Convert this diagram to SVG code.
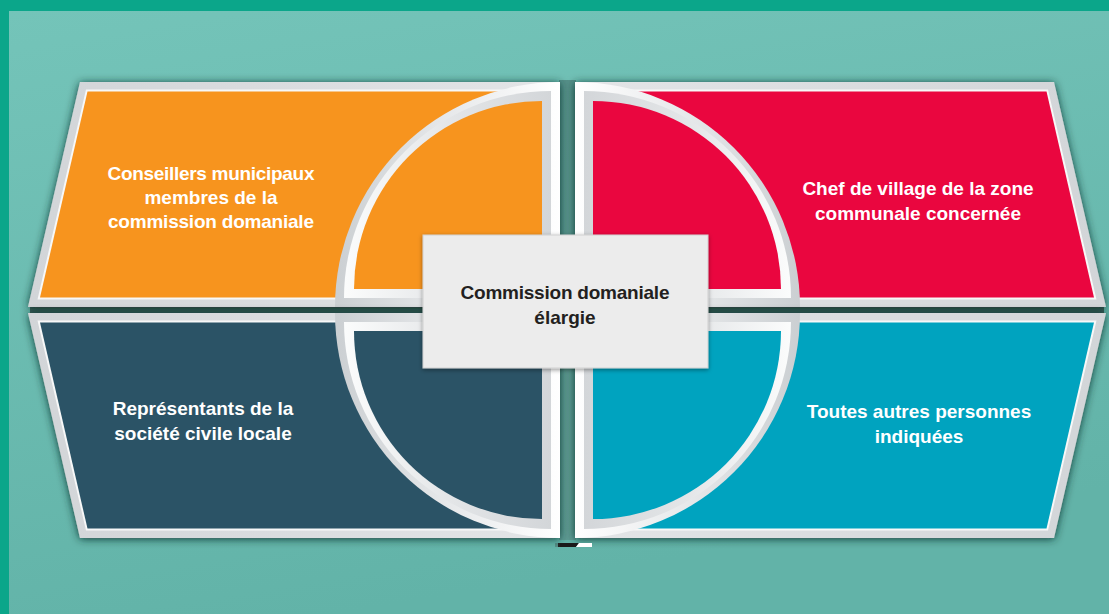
<svg xmlns="http://www.w3.org/2000/svg" width="1109" height="614" viewBox="0 0 1109 614">
  <defs>
    <linearGradient id="bg" x1="0" y1="0" x2="0.3" y2="1">
      <stop offset="0" stop-color="#74c4b9"/>
      <stop offset="1" stop-color="#62b3a8"/>
    </linearGradient>
    <linearGradient id="gapV" x1="0" y1="0" x2="0" y2="1">
      <stop offset="0" stop-color="#55918a"/>
      <stop offset="1" stop-color="#5e9c94"/>
    </linearGradient>
    <linearGradient id="frameL" x1="0" y1="0" x2="1" y2="0">
      <stop offset="0" stop-color="#d2d5d8"/>
      <stop offset="1" stop-color="#e3e5e7"/>
    </linearGradient>
    <linearGradient id="frameR" x1="1" y1="0" x2="0" y2="0">
      <stop offset="0" stop-color="#d2d5d8"/>
      <stop offset="1" stop-color="#e3e5e7"/>
    </linearGradient>
    <linearGradient id="outerL" x1="0" y1="0" x2="1" y2="0">
      <stop offset="0" stop-color="#cbcfd2"/>
      <stop offset="0.45" stop-color="#e4e6e8"/>
      <stop offset="1" stop-color="#ffffff"/>
    </linearGradient>
    <linearGradient id="innerL" x1="0" y1="0" x2="1" y2="0">
      <stop offset="0" stop-color="#fbfcfc"/>
      <stop offset="0.5" stop-color="#e4e6e8"/>
      <stop offset="1" stop-color="#d3d6d9"/>
    </linearGradient>
    <linearGradient id="outerR" x1="1" y1="0" x2="0" y2="0">
      <stop offset="0" stop-color="#cbcfd2"/>
      <stop offset="0.45" stop-color="#e4e6e8"/>
      <stop offset="1" stop-color="#ffffff"/>
    </linearGradient>
    <linearGradient id="innerR" x1="1" y1="0" x2="0" y2="0">
      <stop offset="0" stop-color="#fbfcfc"/>
      <stop offset="0.5" stop-color="#e4e6e8"/>
      <stop offset="1" stop-color="#d3d6d9"/>
    </linearGradient>
    <filter id="shadow" x="-10%" y="-10%" width="120%" height="120%">
      <feDropShadow dx="0" dy="1" stdDeviation="4.5" flood-color="#0f2f2b" flood-opacity="0.9"/>
    </filter>
    <filter id="boxShadow" x="-10%" y="-10%" width="120%" height="130%">
      <feDropShadow dx="0" dy="1.5" stdDeviation="2" flood-color="#000000" flood-opacity="0.4"/>
    </filter>
  </defs>
  <style>
    .label { font-family: "Liberation Sans", Arial, sans-serif; font-weight: bold; font-size: 19px; fill: #ffffff; text-anchor: middle; }
    .center { font-family: "Liberation Sans", Arial, sans-serif; font-weight: bold; font-size: 19px; fill: #231f20; text-anchor: middle; }
    .white { fill: #f7f8f8; }
  </style>

  <!-- background -->
  <rect x="0" y="0" width="1109" height="614" fill="#0ba68a"/>
  <rect x="9" y="11" width="1100" height="603" fill="url(#bg)"/>
  <!-- shaded gaps between the four pieces -->
  <rect x="559" y="80" width="17" height="460" fill="url(#gapV)"/>
  <rect x="30" y="306" width="1074" height="8" fill="#3e5f5a"/>

  <!-- top-left -->
  <g id="node-tl">
    <g filter="url(#shadow)">
      <polygon points="80,82 560,82 560,307 28,307" fill="url(#frameL)"/>
    </g>
    <polygon class="white" points="86,89.5 560,89.5 560,299.5 37.5,299.5"/>
    <polygon points="87.5,91.5 560,91.5 560,297.5 40,297.5" fill="#f7941e"/>
    <path d="M560,307 H335 A225,225 0 0 1 560,82 Z" fill="url(#outerL)"/>
    <path d="M551,298 H344 A207,207 0 0 1 551,91 Z" fill="url(#innerL)"/>
    <path d="M542,289 H354 A188,188 0 0 1 542,101 Z" fill="#f7941e"/>
    <text class="label" x="211" y="180" textLength="207">Conseillers municipaux</text>
    <text class="label" x="211" y="204">membres de la</text>
    <text class="label" x="211" y="228" textLength="206">commission domaniale</text>
  </g>

  <!-- bottom-left -->
  <g id="node-bl">
    <g filter="url(#shadow)">
      <polygon points="28,313 560,313 560,538 80,538" fill="url(#frameL)"/>
    </g>
    <polygon class="white" points="37.5,320.5 560,320.5 560,530.5 86,530.5"/>
    <polygon points="40,322.5 560,322.5 560,528.5 87.5,528.5" fill="#2b5366"/>
    <path d="M560,313 V538 A225,225 0 0 1 335,313 Z" fill="url(#outerL)"/>
    <path d="M551,322 V529 A207,207 0 0 1 344,322 Z" fill="url(#innerL)"/>
    <path d="M542,331 V519 A188,188 0 0 1 354,331 Z" fill="#2b5366"/>
    <text class="label" x="203" y="415">Représentants de la</text>
    <text class="label" x="203" y="440">société civile locale</text>
  </g>

  <!-- top-right -->
  <g id="node-tr">
    <g filter="url(#shadow)">
      <polygon points="1054,82 575,82 575,307 1106,307" fill="url(#frameR)"/>
    </g>
    <polygon class="white" points="1048,89.5 575,89.5 575,299.5 1096.5,299.5"/>
    <polygon points="1046.5,91.5 575,91.5 575,297.5 1094,297.5" fill="#ea063f"/>
    <path d="M575,307 V82 A225,225 0 0 1 800,307 Z" fill="url(#outerR)"/>
    <path d="M584,298 V91 A207,207 0 0 1 791,298 Z" fill="url(#innerR)"/>
    <path d="M593,289 V101 A188,188 0 0 1 781,289 Z" fill="#ea063f"/>
    <text class="label" x="918" y="195">Chef de village de la zone</text>
    <text class="label" x="918" y="220">communale concernée</text>
  </g>

  <!-- bottom-right -->
  <g id="node-br">
    <g filter="url(#shadow)">
      <polygon points="1106,313 575,313 575,538 1054,538" fill="url(#frameR)"/>
    </g>
    <polygon class="white" points="1096.5,320.5 575,320.5 575,530.5 1048,530.5"/>
    <polygon points="1094,322.5 575,322.5 575,528.5 1046.5,528.5" fill="#00a3bf"/>
    <path d="M575,313 H800 A225,225 0 0 1 575,538 Z" fill="url(#outerR)"/>
    <path d="M584,322 H791 A207,207 0 0 1 584,529 Z" fill="url(#innerR)"/>
    <path d="M593,331 H781 A188,188 0 0 1 593,519 Z" fill="#00a3bf"/>
    <text class="label" x="919" y="418">Toutes autres personnes</text>
    <text class="label" x="919" y="443">indiquées</text>
  </g>

  <!-- center -->
  <g id="node-center">
    <rect x="423" y="235" width="285" height="133" fill="#ececec" stroke="#d0d0d0" stroke-width="1" filter="url(#boxShadow)"/>
    <text class="center" x="565" y="299" textLength="209">Commission domaniale</text>
    <text class="center" x="565" y="324">élargie</text>
  </g>

  <g id="connectors"/>

  <!-- small mark below the centre -->
  <g id="mark">
    <polygon points="558,543 579,543 576,547 558,547" fill="#1a1a1a"/>
    <polygon points="579,543 592,543 592,547 576,547" fill="#ffffff"/>
    <line x1="555" y1="544" x2="560" y2="544" stroke="#333333" stroke-width="0.6"/>
    <line x1="555" y1="546" x2="560" y2="546" stroke="#333333" stroke-width="0.6"/>
  </g>
</svg>
